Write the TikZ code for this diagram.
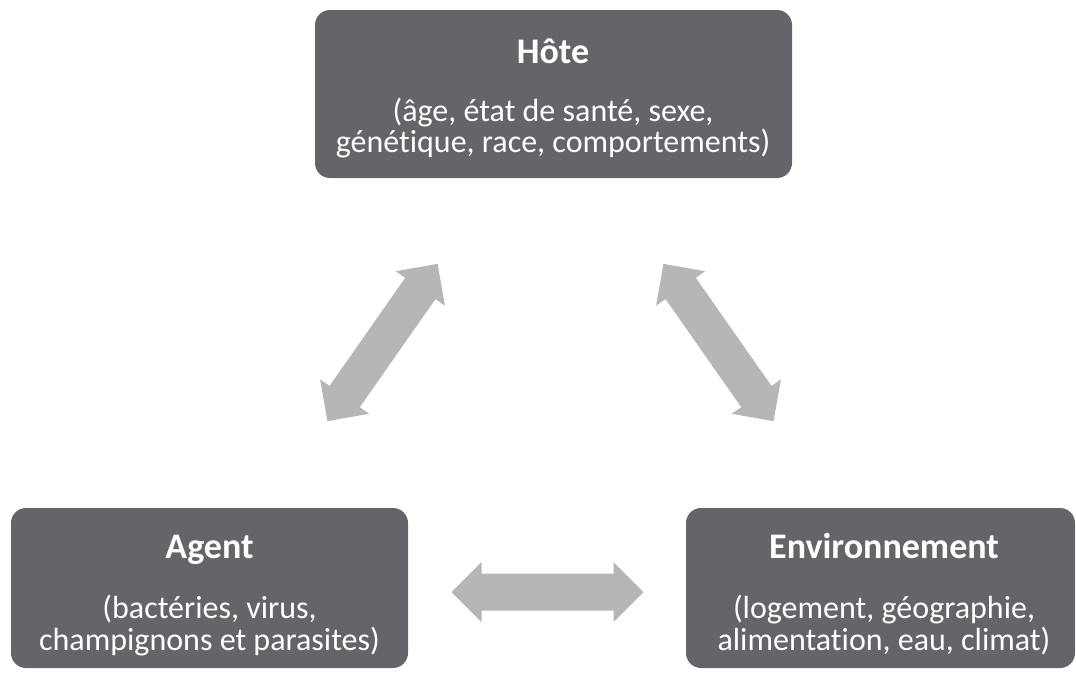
\documentclass[tikz,border=0pt]{standalone}
\usepackage{fontspec}
\setmainfont{Carlito}[Ligatures={NoCommon}]
\definecolor{boxgray}{HTML}{636569}
\definecolor{arrgray}{HTML}{B5B6B8}
\tikzset{
  box/.style={fill=boxgray, rounded corners=15pt, draw=none},
  ttl/.style={text=white, anchor=base, inner sep=0pt, font=\fontsize{36}{40}\selectfont\bfseries},
  sub/.style={text=white, anchor=base, inner sep=0pt, font=\fontsize{32}{34}\selectfont},
  pics/dblarrow/.style={code={
    \fill[arrgray] (-96,0) -- (-66,-30) -- (-66,-18.5) -- (66,-18.5) -- (66,-30) -- (96,0)
      -- (66,30) -- (66,18.5) -- (-66,18.5) -- (-66,30) -- cycle;
  }}
}
\begin{document}
\begin{tikzpicture}[x=1pt,y=-1pt]
\useasboundingbox (0,0) rectangle (1076,672);
% boxes
\fill[box] (315,10) rectangle (792,178);
\fill[box] (11,508) rectangle (408,668);
\fill[box] (686,508) rectangle (1075,668);
\coordinate (hote) at (553,94);
\coordinate (agent) at (209.5,588);
\coordinate (env) at (880.5,588);
% texts
\node[ttl] (hoteT) at (553,63) {Hôte};
\node[sub] (hoteA) at (553,121) {(âge, état de santé, sexe,};
\node[sub] (hoteB) at (553,152) {génétique, race, comportements)};
\node[ttl] (agentT) at (209.5,558) {Agent};
\node[sub] (agentA) at (209.5,618) {(bactéries, virus,};
\node[sub] (agentB) at (209.5,650) {champignons et parasites)};
\node[ttl] (envT) at (884,558) {Environnement};
\node[sub] (envA) at (884,618) {(logement, géographie,};
\node[sub] (envB) at (884,650) {alimentation, eau, climat)};
% arrows
\coordinate (aL) at (382.5,342.5);
\coordinate (aR) at (718.5,342.5);
\coordinate (aB) at (547.5,592);
\pic[rotate=55] at (aL) {dblarrow};
\pic[rotate=-55] at (aR) {dblarrow};
\pic at (aB) {dblarrow};
\end{tikzpicture}
\end{document}
